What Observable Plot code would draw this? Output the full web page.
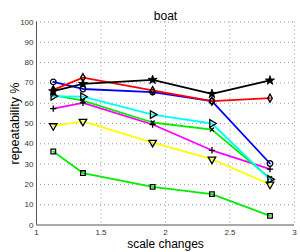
<!DOCTYPE html>
<html><head><meta charset="utf-8">
<script src="https://cdn.jsdelivr.net/npm/d3@7"></script>
<script src="https://cdn.jsdelivr.net/npm/@observablehq/plot@0.6"></script>
<style>body{margin:0;background:#fff;font-family:"Liberation Sans",Arial,sans-serif}</style>
</head><body><div id="chart"></div>
<script>
const scales = [1.13, 1.36, 1.90, 2.36, 2.81];
const blackStar   = [65.9, 69.5, 71.5, 64.6, 71.2];
const redDiamond  = [66.6, 72.6, 66.3, 61.0, 62.5];
const blueCircle  = [70.5, 67.0, 65.5, 61.0, 30.3];
const cyanTri     = [63.4, 63.2, 54.4, 50.0, 22.5];
const greenTimes  = [64.0, 61.3, 50.5, 47.0, 23.0];
const magentaPlus = [57.3, 60.2, 49.5, 36.8, 27.5];
const yellowTri   = [48.8, 51.0, 40.6, 32.4, 20.0];
const greenSquare = [36.2, 25.6, 18.8, 15.2, 4.5];
const xTicks = [1, 1.5, 2, 2.5, 3];
const yTicks = [0, 10, 20, 30, 40, 50, 60, 70, 80, 90, 100];

const series = [
  {name: "greenSquare", values: greenSquare, color: "#00ee00", symbol: "square", rotate: 0, r: 2.6, fill: "none", sw: 1.3},
  {name: "yellowTri", values: yellowTri, color: "#ffff00", symbol: "triangle", rotate: 180, r: 2.8, fill: "none", sw: 1.3},
  {name: "magentaPlus", values: magentaPlus, color: "#ff00ff", symbol: "plus", rotate: 0, r: 2.2, fill: "none", sw: 1.3},
  {name: "greenTimes", values: greenTimes, color: "#00ee00", symbol: "times", rotate: 0, r: 2.0, fill: "none", sw: 1.3},
  {name: "cyanTri", values: cyanTri, color: "#00ffff", symbol: "triangle", rotate: 90, r: 2.8, fill: "none", sw: 1.3},
  {name: "blueCircle", values: blueCircle, color: "#0000ff", symbol: "circle", rotate: 0, r: 2.8, fill: "none", sw: 1.3},
  {name: "redDiamond", values: redDiamond, color: "#ff0000", symbol: "diamond", rotate: 0, r: 2.4, fill: "none", sw: 1.3},
  {name: "blackStar", values: blackStar, color: "#000000", symbol: "star", rotate: 0, r: 2.9, fill: "#000", sw: 0.8}
];

const marks = [
  Plot.gridX(xTicks.slice(1), {stroke: "#999", strokeOpacity: 1, strokeDasharray: "1,3"}),
  Plot.gridY(yTicks.slice(1), {stroke: "#999", strokeOpacity: 1, strokeDasharray: "1,3"}),
  Plot.ruleX([1], {stroke: "#555"}),
  Plot.ruleY([0], {stroke: "#555"}),
  Plot.axisX({ticks: xTicks, tickSize: 0, tickPadding: 4, fontSize: 8, fill: "#333",
    label: "scale changes", labelAnchor: "center", labelArrow: "none", labelOffset: 23, tickFormat: d => String(d)}),
  Plot.axisY({ticks: yTicks, tickSize: 0, tickPadding: 3, fontSize: 8, fill: "#333",
    label: "repeatability %", labelAnchor: "center", labelArrow: "none", labelOffset: 26})
];
for (const s of series) {
  const data = scales.map((x, i) => ({x, y: s.values[i]}));
  marks.push(Plot.line(data, {x: "x", y: "y", stroke: s.color, strokeWidth: 1.8}));
  marks.push(Plot.dot(data, {x: "x", y: "y", symbol: () => s.symbol, stroke: "#000", strokeWidth: s.sw, r: s.r, rotate: s.rotate, fill: s.fill}));
}
marks.push(Plot.text(["boat"], {frameAnchor: "top", dy: -11, fontSize: 12, fill: "#000"}));

const chart = Plot.plot({
  width: 300, height: 252,
  marginLeft: 36, marginRight: 6, marginTop: 21.5, marginBottom: 27.5,
  style: {fontFamily: "'Liberation Sans', Arial, sans-serif", background: "#fff"},
  x: {domain: [1, 3]},
  y: {domain: [0, 100]},
  symbol: {type: "identity"},
  marks
});
chart.querySelectorAll("[aria-label='x-axis label'] text").forEach(t => { t.style.fontSize = "12px"; t.style.fill = "#000"; });
chart.querySelectorAll("[aria-label='y-axis label'] text").forEach(t => { t.style.fontSize = "12.5px"; t.style.fill = "#000"; });
document.getElementById("chart").appendChild(chart);
</script></body></html>
